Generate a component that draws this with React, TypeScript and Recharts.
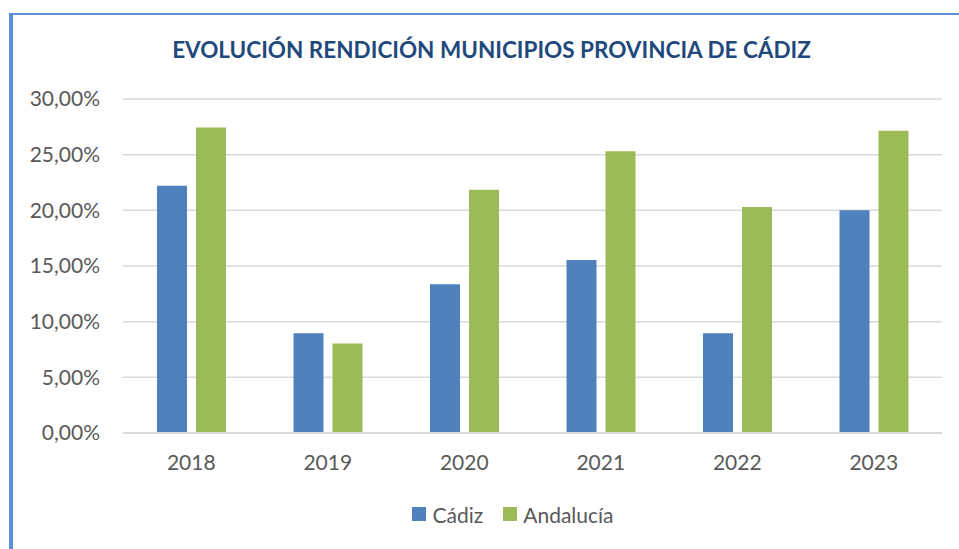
import { Bar, BarChart, CartesianGrid, Legend, XAxis, YAxis } from 'recharts';

const YEARS = ['2018', '2019', '2020', '2021', '2022', '2023'];
const CADIZ = [22.2, 8.95, 13.35, 15.55, 8.95, 20.0];
const ANDALUCIA = [27.45, 8.05, 21.85, 25.3, 20.3, 27.15];
const Y_TICKS = [0, 5, 10, 15, 20, 25, 30];
const SERIES = [
  { key: 'cadiz', name: 'Cádiz', color: '#4F81BD' },
  { key: 'andalucia', name: 'Andalucía', color: '#9BBB59' }
];

const TITLE = 'EVOLUCIÓN RENDICIÓN MUNICIPIOS PROVINCIA DE CÁDIZ';
const FONT = 'Lato, "Open Sans", sans-serif';

const data = YEARS.map((year, i) => ({ year, cadiz: CADIZ[i], andalucia: ANDALUCIA[i] }));

const pct = (v: number) => `${v.toFixed(2).replace('.', ',')}%`;

function LegendRow() {
  return (
    <div style={{ display: 'flex', justifyContent: 'center', gap: 20, fontFamily: FONT, fontSize: 21, color: '#595959', height: 30, alignItems: 'center', paddingLeft: 67 }}>
      {SERIES.map((s) => (
        <span key={s.key} style={{ display: 'flex', alignItems: 'center', gap: 6 }}>
          <span style={{ width: 14, height: 14, background: s.color, display: 'inline-block' }} />
          {s.name}
        </span>
      ))}
    </div>
  );
}

export default function App() {
  return (
    <div style={{ position: 'absolute', left: 0, top: 0, width: 959, height: 549, background: '#fff' }}>
      <div style={{ position: 'absolute', left: 9, top: 13, width: 950, height: 2, background: '#5B8FD4' }} />
      <div style={{ position: 'absolute', left: 9, top: 13, width: 4, height: 536, background: '#5B8FD4' }} />
      <div
        style={{
          position: 'absolute',
          left: 0,
          width: 983,
          top: 36,
          textAlign: 'center',
          fontFamily: FONT,
          fontWeight: 700,
          fontSize: 22.5,
          color: '#1F497D'
        }}
      >
        {TITLE}
      </div>
      <BarChart
        width={959}
        height={549}
        data={data}
        margin={{ top: 99, right: 17, left: 10, bottom: 46 }}
        barCategoryGap={34}
        barGap={9}
        style={{ position: 'absolute', left: 0, top: 0 }}
      >
        <CartesianGrid vertical={false} stroke="#D9D9D9" strokeWidth={1.5} />
        <XAxis
          dataKey="year"
          axisLine={{ stroke: '#D9D9D9', strokeWidth: 2 }}
          tickLine={false}
          tickSize={0}
          tickMargin={22}
          height={40}
          tick={{ fill: '#595959', fontSize: 21, fontFamily: FONT }}
        />
        <YAxis
          width={113}
          domain={[0, 30]}
          ticks={Y_TICKS}
          tickFormatter={pct}
          axisLine={false}
          tickLine={false}
          tickSize={0}
          tickMargin={23}
          tick={{ fill: '#595959', fontSize: 21, fontFamily: FONT }}
        />
        <Legend verticalAlign="bottom" height={30} content={<LegendRow />} wrapperStyle={{ top: 499, left: 0, width: 959 }} />
        {SERIES.map((s) => (
          <Bar key={s.key} dataKey={s.key} name={s.name} fill={s.color} isAnimationActive={false} />
        ))}
      </BarChart>
    </div>
  );
}
